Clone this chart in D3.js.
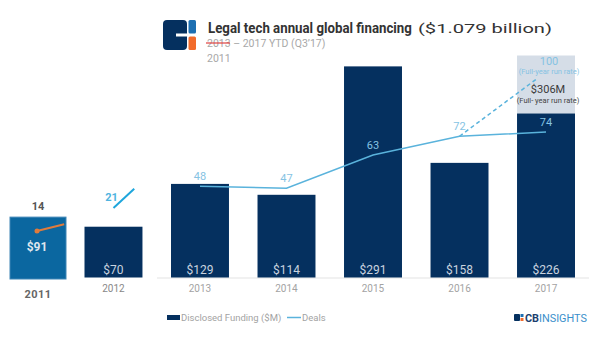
<!DOCTYPE html>
<html>
<head>
<meta charset="utf-8">
<script src="https://cdn.jsdelivr.net/npm/d3@7"></script>
<style>
  body { margin: 0; background: #fff; }
  text { font-family: Roboto, "Open Sans", sans-serif; }
</style>
</head>
<body>
<script>

//Chart data
var years = ["2012", "2013", "2014", "2015", "2016", "2017"];
var funding = [70, 129, 114, 291, 158, 226];
var deals = [21, 48, 47, 63, 72, 74];
var runRateFunding = 306;
var runRateDeals = 100;

//2011 inset
var insetYears = ["2011"];
var insetFunding = [91];
var insetDeals = [14];

var navy = "#05305f";
var lineBlue = "#5ab3dc";
var labelBlue = "#86c3e3";

//Create the SVG Viewport
var svg = d3.select("body").append("svg")
            .attr("width", 600)
            .attr("height", 338);

//Scales
var x = d3.scaleBand().domain(years).range([84.5, 575]).paddingInner(0.33).paddingOuter(0);
var y = d3.scaleLinear().domain([0, runRateFunding]).range([277.5, 55.5]);
var yDeals = d3.scaleLinear().domain([0, 100]).range([286, 78]);

var xInset = d3.scaleBand().domain(insetYears).range([10, 66]);
var yInset = d3.scaleLinear().domain([0, 100]).range([279, 211]);

var cx = function (d) { return x(d) + x.bandwidth() / 2; };

//Squeeze a text horizontally so it spans the given width
function fitWidth(sel, px, py, width) {
  var w = sel.node().getComputedTextLength();
  sel.attr("transform", "translate(" + px + "," + py + ") scale(" + (width / w) + ",1)");
}

//Baseline
svg.append("line")
   .attr("x1", 157).attr("x2", 589)
   .attr("y1", y(0) + 0.5).attr("y2", y(0) + 0.5)
   .attr("stroke", "#e3e3e3");

//Run rate bar behind 2017
svg.append("rect")
   .attr("x", x("2017"))
   .attr("y", y(runRateFunding))
   .attr("width", x.bandwidth())
   .attr("height", y(0) - y(runRateFunding))
   .attr("fill", "#d5dde7");

//Funding bars
var bars = svg.selectAll("rect.bar")
              .data(years)
              .enter()
              .append("rect")
              .attr("class", "bar")
              .attr("x", function (d) { return x(d); })
              .attr("y", function (d, i) { return y(funding[i]); })
              .attr("width", x.bandwidth())
              .attr("height", function (d, i) { return y(0) - y(funding[i]); })
              .attr("fill", navy);

svg.selectAll("text.val")
   .data(years)
   .enter()
   .append("text")
   .attr("class", "val")
   .attr("x", cx)
   .attr("y", y(0) - 4)
   .attr("text-anchor", "middle")
   .attr("font-size", "12px")
   .attr("fill", "#c9d3df")
   .text(function (d, i) { return "$" + funding[i]; });

//Year labels
svg.selectAll("text.year")
   .data(years)
   .enter()
   .append("text")
   .attr("class", "year")
   .attr("x", cx)
   .attr("y", 292)
   .attr("text-anchor", "middle")
   .attr("font-size", "10px")
   .attr("fill", function (d) { return d === "2012" ? "#888" : "#a3a3a3"; })
   .text(function (d) { return d; });

//2011 bar
svg.append("rect")
   .attr("x", xInset("2011"))
   .attr("y", yInset(insetFunding[0]))
   .attr("width", xInset.bandwidth())
   .attr("height", yInset(0) - yInset(insetFunding[0]))
   .attr("fill", "#0b67a0")
   .attr("stroke", "#3f86b6")
   .attr("stroke-width", 1);

var insetCx = xInset("2011") + xInset.bandwidth() / 2;

svg.append("text")
   .attr("x", insetCx - 1)
   .attr("y", 251)
   .attr("text-anchor", "middle")
   .attr("font-size", "12px")
   .attr("font-weight", "bold")
   .attr("fill", "#dfe6ee")
   .text("$" + insetFunding[0]);

svg.append("text")
   .attr("x", insetCx)
   .attr("y", 298)
   .attr("text-anchor", "middle")
   .attr("font-size", "11px")
   .attr("font-weight", "bold")
   .attr("letter-spacing", "0.5px")
   .attr("fill", "#666")
   .text(insetYears[0]);

//2011 deals: point and the stub heading to 2012
var yInsetDeals = d3.scaleLinear().domain([insetDeals[0], deals[0]]).range([231, 212]);
var stubT = 0.36;
var stubEnd = insetCx - 1 + (cx("2012") - insetCx) * stubT;
var stubY = yInsetDeals(insetDeals[0] + (deals[0] - insetDeals[0]) * stubT);

svg.append("line")
   .attr("x1", insetCx - 1).attr("y1", yInsetDeals(insetDeals[0]))
   .attr("x2", stubEnd).attr("y2", stubY)
   .attr("stroke", "#e07b3c")
   .attr("stroke-width", 2);

svg.append("circle")
   .attr("cx", insetCx - 1)
   .attr("cy", yInsetDeals(insetDeals[0]))
   .attr("r", 2.5)
   .attr("fill", "#e07b3c");

svg.append("text")
   .attr("x", insetCx)
   .attr("y", 210)
   .attr("text-anchor", "middle")
   .attr("font-size", "11px")
   .attr("font-weight", "bold")
   .attr("fill", "#555")
   .text(insetDeals[0]);

//2012 deals fragment rising towards 2013
var yFrag = d3.scaleLinear().domain([deals[0], deals[1]]).range([208, 128]);
var fragT = 0.24;
svg.append("line")
   .attr("x1", cx("2012")).attr("y1", yFrag(deals[0]))
   .attr("x2", cx("2012") + (cx("2013") - cx("2012")) * fragT)
   .attr("y2", yFrag(deals[0] + (deals[1] - deals[0]) * fragT))
   .attr("stroke", "#1ea6dc")
   .attr("stroke-width", 2);

svg.append("text")
   .attr("x", cx("2012") - 2)
   .attr("y", 201)
   .attr("text-anchor", "middle")
   .attr("font-size", "11px")
   .attr("font-weight", "bold")
   .attr("fill", "#4fb4e0")
   .text(deals[0]);

//Deals line, 2013 onwards
var lineYears = years.slice(1);
var lineDeals = deals.slice(1);

var line = d3.line()
             .x(function (d) { return cx(d[0]); })
             .y(function (d) { return yDeals(d[1]); });

svg.append("path")
   .datum(d3.zip(lineYears, lineDeals))
   .attr("d", line)
   .attr("fill", "none")
   .attr("stroke", lineBlue)
   .attr("stroke-width", 1.5);

//Run rate projection
svg.append("line")
   .attr("x1", cx("2016")).attr("y1", yDeals(deals[4]))
   .attr("x2", x("2017") + x.bandwidth() * 0.36).attr("y2", yDeals(runRateDeals))
   .attr("stroke", lineBlue)
   .attr("stroke-width", 1.5)
   .attr("stroke-dasharray", "4,3");

svg.selectAll("text.deal")
   .data(lineYears)
   .enter()
   .append("text")
   .attr("class", "deal")
   .attr("x", cx)
   .attr("y", function (d, i) { return yDeals(lineDeals[i]) - 6; })
   .attr("text-anchor", "middle")
   .attr("font-size", "11px")
   .attr("fill", labelBlue)
   .text(function (d, i) { return lineDeals[i]; });

//Run rate labels
var rx = cx("2017") + 3;
svg.append("text")
   .attr("x", rx).attr("y", 65)
   .attr("text-anchor", "middle")
   .attr("font-size", "11px")
   .attr("fill", labelBlue)
   .text(runRateDeals);

svg.append("text")
   .attr("x", rx).attr("y", 74)
   .attr("text-anchor", "middle")
   .attr("font-size", "7.5px")
   .attr("fill", labelBlue)
   .text("(Full-year run rate)");

svg.append("text")
   .attr("x", rx - 1).attr("y", 93)
   .attr("text-anchor", "middle")
   .attr("font-size", "11px")
   .attr("fill", "#3a3a3a")
   .text("$" + runRateFunding + "M");

svg.append("text")
   .attr("x", rx - 1).attr("y", 102.5)
   .attr("text-anchor", "middle")
   .attr("font-size", "7.5px")
   .attr("fill", "#444")
   .text("(Full- year run rate)");

//Title logo
var logo = svg.append("g");
logo.append("rect").attr("x", 163).attr("y", 20).attr("width", 24).attr("height", 30).attr("rx", 4).attr("fill", navy);
logo.append("rect").attr("x", 176).attr("y", 33.5).attr("width", 12).attr("height", 3).attr("fill", "#fff");
logo.append("rect").attr("x", 188.5).attr("y", 20).attr("width", 7.5).attr("height", 13.5).attr("rx", 1.5).attr("fill", "#1c6fb2");
logo.append("rect").attr("x", 188.5).attr("y", 36.5).attr("width", 7.5).attr("height", 13.5).attr("rx", 1.5).attr("fill", "#f26b2b");

//Title, condensed to fit
var title = svg.append("text")
               .attr("font-size", "14.5px")
               .attr("font-weight", "bold")
               .attr("fill", "#333")
               .text("Legal tech annual global financing");
fitWidth(title, 208, 33, 204);

var total = svg.append("text")
               .attr("font-size", "13.5px")
               .attr("fill", "#333")
               .text("($1.079 billion)");
fitWidth(total, 418, 33, 134);

//Subtitle
var sub = svg.append("text")
             .attr("x", 207).attr("y", 47)
             .attr("font-size", "10.5px")
             .attr("fill", "#a8a8a8");
sub.append("tspan").text("2013");
sub.append("tspan").text(" \u2013 2017 YTD (Q3\u201917)");

svg.append("line")
   .attr("x1", 206).attr("x2", 230)
   .attr("y1", 43).attr("y2", 43)
   .attr("stroke", "#e04040")
   .attr("stroke-width", 1.2);

svg.append("text")
   .attr("x", 207).attr("y", 62)
   .attr("font-size", "10.5px")
   .attr("fill", "#a8a8a8")
   .text("2011");

//Legend
svg.append("rect").attr("x", 167).attr("y", 315).attr("width", 13).attr("height", 5).attr("fill", navy);
svg.append("text").attr("x", 181).attr("y", 321).attr("font-size", "9.5px").attr("fill", "#a3a3a3").text("Disclosed Funding ($M)");
svg.append("line").attr("x1", 287).attr("x2", 301).attr("y1", 317.5).attr("y2", 317.5).attr("stroke", lineBlue).attr("stroke-width", 1.5);
svg.append("text").attr("x", 302).attr("y", 321).attr("font-size", "9.5px").attr("fill", "#a3a3a3").text("Deals");

//CB Insights mark
var cb = svg.append("g");
cb.append("rect").attr("x", 514).attr("y", 314).attr("width", 6).attr("height", 7).attr("rx", 1).attr("fill", navy);
cb.append("rect").attr("x", 520.5).attr("y", 314).attr("width", 3).attr("height", 3).attr("fill", "#1c6fb2");
cb.append("rect").attr("x", 520.5).attr("y", 318).attr("width", 3).attr("height", 3).attr("fill", "#f26b2b");
var cbText = cb.append("text").attr("font-size", "10.5px");
cbText.append("tspan").attr("font-weight", "bold").attr("fill", "#1c3f6e").text("CB");
cbText.append("tspan").attr("fill", "#3a8fcb").text("INSIGHTS");
fitWidth(cbText, 525, 322, 62);

</script>
</body>
</html>
